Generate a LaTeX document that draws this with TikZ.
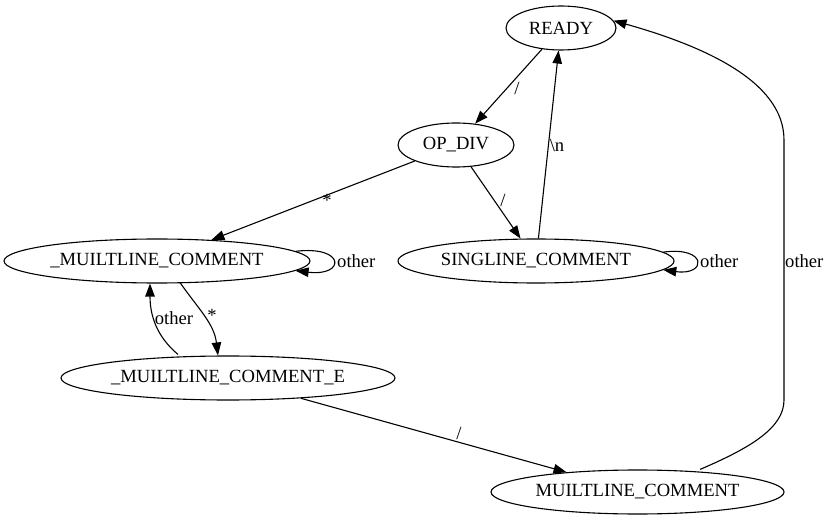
\documentclass[tikz,border=0pt]{standalone}
\usepackage{fontspec}
\setmainfont{Liberation Serif}
\usetikzlibrary{shapes.geometric,arrows.meta,calc}
\newcommand{\fs}{\fontsize{18.6}{22}\selectfont}
\begin{document}
\begin{tikzpicture}[x=1pt,y=1pt,
  st/.style={ellipse,draw,line width=1.1pt,inner sep=0pt,minimum height=44pt,font=\fs},
  arr/.style={line width=1.1pt,-{Triangle[length=13pt,width=9.5pt]}},
  lbl/.style={font=\fs,inner sep=1pt}]
\useasboundingbox (0,0) rectangle (828,523);
\node[st,minimum width=110pt] (r) at (561,495) {READY};
\node[st,minimum width=116pt] (o) at (456,378) {OP\_DIV};
\node[st,minimum width=306pt] (m) at (157,262) {\_MUILTLINE\_COMMENT};
\node[st,minimum width=276pt] (s) at (536,262) {SINGLINE\_COMMENT};
\node[st,minimum width=334pt] (e) at (228,145) {\_MUILTLINE\_COMMENT\_E};
\node[st,minimum width=293pt] (mc) at (637.5,31) {MUILTLINE\_COMMENT};

\draw[arr] (r) -- (o);
\draw[arr] (o) -- (m);
\draw[arr] (o) -- (s);
\draw[arr] (s) -- (r);
\draw[arr] (e) -- (mc);
\draw[arr] (m.4) .. controls +(50,6) and +(50,-6) .. (m.-4);
\draw[arr] (s.4) .. controls +(44,6) and +(44,-6) .. (s.-4);
\draw[arr] ($(m.south)+(23,1)$) to[out=-55,in=97] ($(e.north)+(-10,0)$);
\draw[arr] ($(e.north)+(-50,1)$) to[out=140,in=-90] ($(m.south)+(-7,0)$);
\draw[arr] ($(mc.north)+(62.5,0)$) .. controls (750,75) and (784,95) .. (784,123)
  -- (784,383) .. controls (784,443) and (700,478) .. (r.8);

\node[lbl] (l1) at (517,435) {/};
\node[lbl] (l2) at (327,323) {*};
\node[lbl] (l3) at (503,323) {/};
\node[lbl] (l4) at (557,378) {\textbackslash n};
\node[lbl] (l5) at (459,90) {/};
\node[lbl,anchor=west] (l6) at (336,262) {other};
\node[lbl,anchor=west] (l7) at (699,262) {other};
\node[lbl,anchor=west] (l8) at (784,262) {other};
\node[lbl] (l9) at (174,205) {other};
\node[lbl] (l10) at (212,208) {*};
\end{tikzpicture}
\end{document}
